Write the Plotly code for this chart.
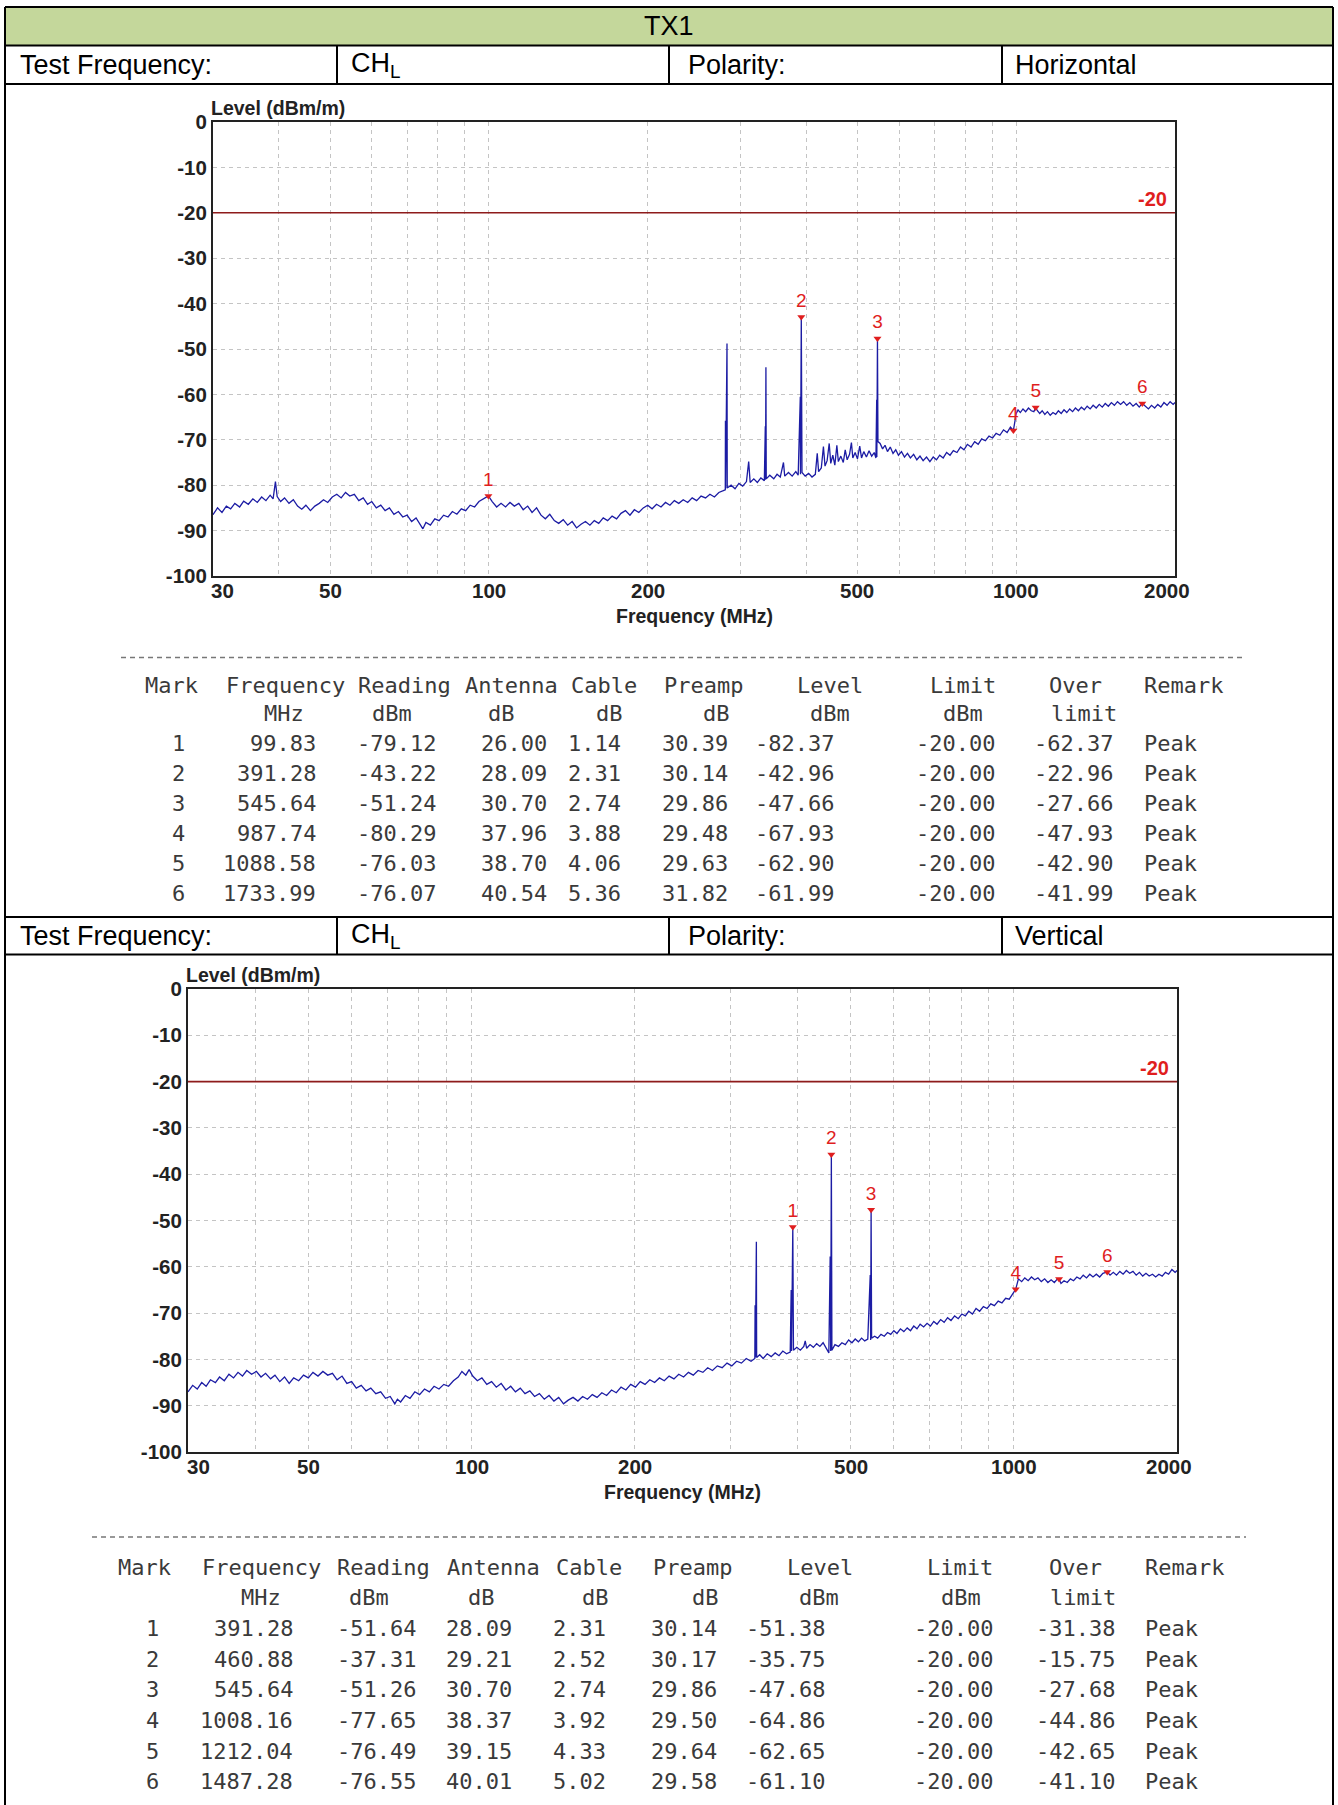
import numpy as np
import plotly.graph_objects as go

FIG_W, FIG_H = 1338, 1805

# ---- sweep, horizontal polarity ----
h_freq = [
    30, 30.6, 31.2, 31.8, 32.4, 33.0, 33.7, 34.3, 35.0, 35.7,
    36.4, 37.1, 37.8, 38.5, 39.0, 39.4, 39.7, 40.3, 41.0, 41.8,
    42.6, 43.4, 44.2, 45.0, 45.9, 46.8, 47.7, 48.6, 49.5, 50.5,
    51.5, 52.5, 53.5, 54.5, 55.6, 56.7, 57.8, 58.9, 60.0, 61.2,
    62.4, 63.6, 64.8, 66.1, 67.4, 68.7, 70.0, 71.4, 72.8, 74.2,
    75.0, 76.0, 77.5, 79.0, 80.5, 82.1, 83.7, 85.3, 87.0, 88.7,
    90.4, 92.2, 94.0, 95.8, 97.7, 99.83, 101.5, 103.5, 105.5, 107.6,
    109.7, 111.8, 114.0, 116.2, 118.5, 120.8, 123.2, 125.6, 128.0, 130.5,
    133.1, 135.7, 138.4, 141.1, 143.9, 146.7, 149.6, 152.5, 155.5, 158.5,
    161.6, 164.8, 168.0, 171.3, 174.7, 178.1, 181.6, 185.2, 188.8, 192.5,
    196.3, 200.1, 204.0, 208.0, 212.1, 216.3, 220.5, 224.8, 229.2, 233.7,
    238.3, 243.0, 247.8, 252.6, 257.6, 262.6, 267.8, 273.0, 278.4, 280.8,
    281.0, 281.2, 282.9, 283.2, 288, 293, 298, 303, 308, 311,
    313, 318, 323, 328, 333, 334.4, 334.7, 335.3, 335.8, 341,
    347, 352, 357, 362, 364, 370, 376, 382, 386, 389.6,
    389.9, 391.28, 392.5, 398, 404, 410, 416, 419.5, 422, 427,
    431, 434, 438, 442, 445, 449, 453, 457, 460, 465,
    470, 474, 478, 483, 487, 490, 495, 500, 505, 509,
    514, 520, 526, 532, 538, 542, 543.8, 544.2, 545.64, 546.8,
    552, 558, 564, 570, 577, 584, 591, 598, 606, 614,
    622, 630, 639, 648, 657, 666, 676, 686, 696, 706,
    716, 727, 738, 749, 760, 772, 784, 796, 808, 821,
    834, 847, 860, 874, 888, 902, 916, 931, 946, 961,
    975, 987.74, 995, 1000, 1008, 1018, 1030, 1042, 1055, 1068,
    1080, 1088.58, 1097, 1108, 1120, 1133, 1146, 1160, 1174, 1188,
    1202, 1217, 1232, 1247, 1263, 1279, 1295, 1312, 1329, 1346,
    1363, 1381, 1399, 1418, 1437, 1456, 1475, 1495, 1515, 1535,
    1556, 1577, 1598, 1620, 1642, 1665, 1688, 1711, 1733.99, 1757,
    1781, 1805, 1830, 1855, 1880, 1906, 1932, 1958, 1984, 2000,
]
h_level = [
    -86.5, -85.0, -86.0, -84.6, -85.2, -84.0, -84.8, -83.5, -84.2, -83.0,
    -83.8, -82.6, -83.4, -82.2, -83.0, -79.2, -82.5, -83.6, -82.8, -84.0,
    -83.2, -84.6, -85.3, -84.4, -85.6, -84.6, -84.0, -83.2, -83.8, -82.6,
    -82.0, -82.8, -81.6, -82.4, -82.0, -83.4, -82.8, -84.2, -83.6, -85.0,
    -84.4, -85.6, -85.0, -86.4, -85.8, -87.0, -86.6, -88.0, -87.2, -88.8,
    -89.6, -88.2, -88.8, -87.4, -87.8, -86.6, -87.0, -85.8, -86.4, -85.2,
    -85.6, -84.4, -84.8, -83.6, -83.0, -82.37, -83.6, -84.8, -84.0, -84.8,
    -83.8, -84.6, -84.0, -85.4, -84.6, -86.0, -85.0, -86.6, -87.4, -86.4,
    -87.8, -88.4, -87.6, -88.8, -88.0, -89.4, -88.6, -88.0, -88.8, -87.8,
    -88.4, -87.2, -87.8, -86.8, -87.4, -86.2, -85.6, -86.6, -85.4, -86.0,
    -85.0, -84.4, -85.2, -84.2, -84.8, -83.8, -84.4, -83.4, -84.0, -83.2,
    -83.8, -82.8, -83.4, -82.4, -82.8, -82.0, -82.6, -81.6, -81.2, -81.0,
    -65.8, -80.8, -48.8, -80.6, -80.0, -80.8, -79.6, -80.2, -79.2, -74.8,
    -79.4, -78.6, -79.4, -78.4, -79.0, -67.0, -78.8, -54.0, -78.6, -77.8,
    -78.6, -77.6, -78.2, -75.0, -78.0, -77.2, -78.0, -77.0, -77.8, -60.5,
    -77.6, -42.96, -77.2, -78.0, -77.4, -78.2, -77.6, -73.0, -77.0, -76.2,
    -71.5, -75.8, -74.6, -70.8, -75.2, -73.4, -75.6, -71.2, -74.8, -73.6,
    -75.0, -72.2, -74.4, -73.2, -70.6, -74.0, -72.8, -74.2, -71.4, -74.0,
    -72.6, -73.8, -72.4, -73.6, -72.8, -74.0, -61.2, -73.8, -47.66, -70.4,
    -70.8, -72.0, -71.2, -72.6, -71.6, -73.0, -72.2, -73.4, -72.6, -73.8,
    -73.0, -74.0, -73.2, -74.4, -73.6, -74.6, -73.8, -74.8, -73.8, -74.4,
    -73.4, -74.0, -72.8, -73.4, -72.4, -72.8, -71.6, -72.2, -71.0, -71.6,
    -70.4, -71.0, -69.8, -70.2, -69.2, -69.6, -68.6, -69.0, -67.8, -68.4,
    -67.2, -67.93, -66.0, -64.2, -63.4, -64.0, -63.2, -63.8, -63.0, -63.6,
    -63.8, -62.90, -63.6, -64.2, -63.6, -64.4, -63.8, -64.6, -64.0, -64.4,
    -63.6, -64.2, -63.4, -64.0, -63.2, -63.8, -63.0, -63.6, -62.8, -63.4,
    -62.6, -63.2, -62.4, -63.0, -62.2, -62.8, -62.0, -62.6, -61.8, -62.4,
    -61.6, -62.2, -61.6, -62.4, -61.8, -62.6, -62.0, -62.8, -61.99, -62.6,
    -63.2, -62.4, -63.0, -62.2, -62.8, -61.8, -62.4, -61.6, -62.2, -61.8,
]

# ---- sweep, vertical polarity ----
v_freq = [
    30, 30.6, 31.2, 31.8, 32.4, 33.0, 33.7, 34.3, 35.0, 35.7,
    36.4, 37.1, 37.8, 38.5, 39.3, 40.1, 40.9, 41.7, 42.6, 43.4,
    44.3, 45.2, 46.1, 47.0, 48.0, 49.0, 50.0, 51.0, 52.1, 53.2,
    54.3, 55.4, 56.5, 57.7, 58.9, 60.1, 61.3, 62.6, 63.9, 65.2,
    66.6, 68.0, 69.4, 70.8, 72.2, 73.0, 74.0, 75.5, 77.0, 78.6,
    80.2, 81.9, 83.6, 85.3, 87.1, 88.9, 90.7, 92.6, 94.5, 96.0,
    97.6, 99.0, 100.5, 102.5, 104.5, 106.7, 108.9, 111.1, 113.4, 115.7,
    118.1, 120.5, 123.0, 125.5, 128.1, 130.7, 133.4, 136.2, 139.0, 141.9,
    144.8, 147.8, 150.8, 153.9, 157.1, 160.3, 163.6, 167.0, 170.4, 173.9,
    177.5, 181.2, 184.9, 188.7, 192.6, 196.6, 200.6, 204.7, 208.9, 213.2,
    217.6, 222.1, 226.7, 231.4, 236.2, 241.1, 246.1, 251.2, 256.4, 261.7,
    267.1, 272.6, 278.2, 284.0, 289.9, 295.9, 302.0, 308.2, 314.6, 321.1,
    327.7, 333.0, 333.4, 333.8, 335.2, 335.6, 340, 345, 351, 357,
    363, 369, 375, 381, 387, 388.6, 389.2, 391.28, 392.4, 398,
    404, 410, 412.5, 415, 421, 427, 433, 439, 445, 451,
    456, 458.6, 459.6, 460.88, 462, 468, 475, 482, 489, 496,
    503, 510, 517, 524, 531, 538, 543.6, 544.6, 545.64, 546.8,
    554, 561, 569, 577, 585, 593, 601, 609, 618, 627,
    636, 645, 654, 663, 672, 682, 692, 702, 712, 722,
    733, 744, 755, 766, 778, 790, 802, 814, 826, 839,
    852, 865, 879, 893, 907, 921, 936, 951, 966, 981,
    996, 1008.16, 1020, 1034, 1048, 1063, 1078, 1093, 1108, 1124,
    1140, 1156, 1172, 1188, 1204, 1212.04, 1222, 1238, 1255, 1272,
    1289, 1307, 1325, 1343, 1362, 1381, 1400, 1420, 1440, 1460,
    1487.28, 1505, 1526, 1547, 1569, 1591, 1613, 1636, 1659, 1682,
    1705, 1729, 1753, 1777, 1802, 1827, 1852, 1878, 1904, 1930,
    1957, 1984, 2000,
]
v_level = [
    -87.0, -85.6, -86.4, -85.0, -85.8, -84.4, -85.0, -83.8, -84.6, -83.2,
    -84.0, -82.8, -83.6, -82.4, -83.2, -82.6, -83.8, -83.0, -84.2, -83.4,
    -84.8, -83.8, -85.2, -84.0, -84.6, -83.4, -84.0, -82.8, -83.6, -82.6,
    -83.4, -83.0, -84.4, -83.6, -85.2, -84.8, -86.2, -85.6, -86.8, -86.2,
    -87.4, -87.0, -88.4, -88.0, -89.6, -88.6, -89.2, -87.8, -88.4, -87.0,
    -87.6, -86.4, -87.0, -85.8, -86.4, -85.4, -85.8, -84.6, -83.8, -82.6,
    -83.4, -82.2, -83.6, -84.6, -84.0, -85.4, -84.8, -86.0, -85.2, -86.6,
    -85.8, -87.0, -86.2, -87.4, -86.8, -88.0, -87.4, -88.6, -87.8, -89.0,
    -88.2, -89.6, -88.8, -88.2, -89.0, -88.0, -88.6, -87.6, -88.2, -87.2,
    -87.8, -86.6, -87.2, -86.0, -86.6, -85.4, -86.0, -84.8, -85.4, -84.4,
    -85.0, -84.0, -84.6, -83.6, -84.2, -83.2, -83.8, -82.8, -83.4, -82.4,
    -82.8, -81.8, -82.4, -81.4, -81.8, -80.8, -81.4, -80.4, -80.8, -79.8,
    -80.4, -79.8, -68.3, -79.6, -54.6, -79.6, -79.0, -79.8, -78.8, -79.4,
    -78.6, -79.2, -78.2, -78.8, -78.4, -65.0, -78.2, -51.38, -78.0, -77.4,
    -78.0, -77.2, -76.0, -77.6, -76.8, -77.4, -76.6, -77.2, -76.4, -77.8,
    -78.6, -57.8, -78.2, -35.75, -78.0, -76.8, -77.2, -76.4, -76.8, -75.8,
    -76.4, -75.6, -76.2, -75.4, -76.0, -75.6, -61.8, -75.8, -47.68, -75.4,
    -75.0, -75.4, -74.6, -75.0, -74.2, -74.6, -73.8, -74.4, -73.4, -74.0,
    -73.2, -73.8, -72.8, -73.4, -72.4, -73.0, -72.2, -72.8, -71.8, -72.4,
    -71.4, -72.0, -71.0, -71.6, -70.6, -71.2, -70.2, -70.6, -69.6, -70.2,
    -69.0, -69.6, -68.6, -69.0, -68.0, -68.4, -67.4, -67.8, -66.8, -67.0,
    -65.8, -64.86, -62.6, -63.2, -62.4, -63.0, -62.2, -62.8, -62.4, -63.2,
    -62.6, -63.4, -62.8, -63.4, -62.6, -62.65, -63.6, -63.0, -63.4, -62.6,
    -63.0, -62.2, -62.6, -61.8, -62.4, -61.6, -62.2, -61.6, -62.2, -61.4,
    -61.10, -61.8, -61.2, -61.8, -61.0, -61.6, -60.8, -61.4, -61.0, -61.8,
    -61.2, -62.0, -61.4, -62.0, -61.6, -62.2, -61.6, -62.0, -61.2, -61.6,
    -60.6, -61.2, -60.8,
]
assert len(h_freq) == len(h_level) and len(v_freq) == len(v_level)

# ---- marker tables ----
h_mark = [1, 2, 3, 4, 5, 6]
h_mk_freq = [99.83, 391.28, 545.64, 987.74, 1088.58, 1733.99]
h_reading = [-79.12, -43.22, -51.24, -80.29, -76.03, -76.07]
h_antenna = [26.00, 28.09, 30.70, 37.96, 38.70, 40.54]
h_cable = [1.14, 2.31, 2.74, 3.88, 4.06, 5.36]
h_preamp = [30.39, 30.14, 29.86, 29.48, 29.63, 31.82]
h_mk_level = [-82.37, -42.96, -47.66, -67.93, -62.90, -61.99]
h_limit = [-20.00] * 6
h_over = [-62.37, -22.96, -27.66, -47.93, -42.90, -41.99]
h_remark = ["Peak"] * 6

v_mark = [1, 2, 3, 4, 5, 6]
v_mk_freq = [391.28, 460.88, 545.64, 1008.16, 1212.04, 1487.28]
v_reading = [-51.64, -37.31, -51.26, -77.65, -76.49, -76.55]
v_antenna = [28.09, 29.21, 30.70, 38.37, 39.15, 40.01]
v_cable = [2.31, 2.52, 2.74, 3.92, 4.33, 5.02]
v_preamp = [30.14, 30.17, 29.86, 29.50, 29.64, 29.58]
v_mk_level = [-51.38, -35.75, -47.68, -64.86, -62.65, -61.10]
v_limit = [-20.00] * 6
v_over = [-31.38, -15.75, -27.68, -44.86, -42.65, -41.10]
v_remark = ["Peak"] * 6

limit_level = -20
freq_span = [30, 2000]
x_label_vals = [30, 50, 100, 200, 500, 1000, 2000]
x_grid_vals = [40, 50, 60, 70, 80, 90, 100, 200, 300, 400, 500, 600, 700, 800, 900, 1000]
y_tick_vals = [0, -10, -20, -30, -40, -50, -60, -70, -80, -90, -100]

tbl_headers = ["Mark", "Frequency", "Reading", "Antenna", "Cable", "Preamp", "Level", "Limit", "Over", "Remark"]
tbl_units = ["", "MHz", "dBm", "dB", "dB", "dB", "dBm", "dBm", "limit", ""]

SANS = "Liberation Sans, Arial, sans-serif"
MONO = "DejaVu Sans Mono, monospace"
TRACE = "#1c1ca4"
RED = "#e01e1e"


def px_x(x):
    return x / FIG_W


def px_y(y):
    return 1 - y / FIG_H


fig = go.Figure()
shapes = []
annotations = []

charts = [
    dict(freq=h_freq, level=h_level, mk_f=h_mk_freq, mk_l=h_mk_level, box=(213, 122, 1175, 576)),
    dict(freq=v_freq, level=v_level, mk_f=v_mk_freq, mk_l=v_mk_level, box=(188, 989, 1177, 1452)),
]

for i, c in enumerate(charts):
    n = "" if i == 0 else str(i + 1)
    xa, ya = "x" + n, "y" + n
    x0, y0, x1, y1 = c["box"]

    fig.add_trace(go.Scatter(
        x=freq_span, y=[limit_level, limit_level], mode="lines",
        line=dict(color="#8e1b1b", width=1.6), xaxis=xa, yaxis=ya, hoverinfo="skip",
    ))
    fig.add_trace(go.Scatter(
        x=c["freq"], y=c["level"], mode="lines",
        line=dict(color=TRACE, width=1.3), xaxis=xa, yaxis=ya, hoverinfo="skip",
    ))
    fig.add_trace(go.Scatter(
        x=c["mk_f"], y=c["mk_l"], mode="markers+text",
        text=[str(k + 1) for k in range(len(c["mk_f"]))], textposition="top center",
        textfont=dict(family=SANS, size=19, color=RED),
        marker=dict(symbol="triangle-down", size=7, color=RED),
        xaxis=xa, yaxis=ya, hoverinfo="skip", cliponaxis=False,
    ))

    fig.layout["xaxis" + n] = dict(
        type="log", range=[np.log10(freq_span[0]), np.log10(freq_span[1])],
        domain=[px_x(x0), px_x(x1)], anchor=ya, automargin=False,
        tickvals=x_grid_vals, showticklabels=False, ticks="",
        showgrid=True, gridcolor="#c4c4c4", griddash="4px,4px", gridwidth=1,
        showline=True, mirror=True, linecolor="#222", linewidth=2, zeroline=False,
    )
    fig.layout["yaxis" + n] = dict(
        range=[-100, 0], domain=[px_y(y1), px_y(y0)], anchor=xa, automargin=False,
        tickvals=y_tick_vals, ticktext=[str(v) for v in y_tick_vals], ticks="",
        tickfont=dict(family=SANS, size=20.5, color="#222", weight="bold"),
        showgrid=True, gridcolor="#c4c4c4", griddash="4px,4px", gridwidth=1,
        showline=True, mirror=True, linecolor="#222", linewidth=2, zeroline=False,
    )

    for v in x_label_vals:
        shift = 10 if v == freq_span[0] else (-8 if v == freq_span[1] else 0)
        annotations.append(dict(
            xref=xa, yref=ya, x=np.log10(v), y=-100, xanchor="center", yanchor="top",
            xshift=shift, yshift=-1, text=str(v), showarrow=False,
            font=dict(family=SANS, size=20.5, color="#222", weight="bold"),
        ))
    annotations.append(dict(
        xref=xa + " domain", yref=ya + " domain", x=0, y=1, xanchor="left", yanchor="bottom",
        xshift=-4, yshift=1, text="Level (dBm/m)", showarrow=False,
        font=dict(family=SANS, size=19.5, color="#222", weight="bold"),
    ))
    annotations.append(dict(
        xref=xa + " domain", yref=ya + " domain", x=0.5, y=0, xanchor="center", yanchor="top",
        yshift=-27, text="Frequency (MHz)", showarrow=False,
        font=dict(family=SANS, size=19.5, color="#222", weight="bold"),
    ))
    annotations.append(dict(
        xref=xa, yref=ya, x=np.log10(freq_span[1]), y=limit_level, xanchor="right", yanchor="bottom",
        xshift=-6, yshift=1, text=str(limit_level), showarrow=False,
        font=dict(family=SANS, size=20, color=RED, weight="bold"),
    ))

# ---- report tables (marker listings) ----
tables = [
    dict(rows=[h_mark, h_mk_freq, h_reading, h_antenna, h_cable, h_preamp, h_mk_level, h_limit, h_over, h_remark],
         dash_y=657.5, dash_x=(121, 1246),
         row_y=[685.1, 713.9, 743.9, 773.8, 803.7, 833.7, 863.6, 893.6],
         hdr_x=[171.6, 285.6, 404.2, 511.8, 604, 703, 829.7, 962.7, 1075, 1142.3],
         unit_x=[0, 283.8, 391.5, 501.5, 609.7, 716.8, 830.2, 962.7, 1083.6, 0],
         val_x=[178.5, 317.8, 437.6, 549.3, 623, 730, 836, 997.2, 1114.7, 1142.3]),
    dict(rows=[v_mark, v_mk_freq, v_reading, v_antenna, v_cable, v_preamp, v_mk_level, v_limit, v_over, v_remark],
         dash_y=1537, dash_x=(92, 1246),
         row_y=[1567.2, 1597.1, 1628.2, 1659.3, 1689.3, 1720.4, 1751.4, 1781.4],
         hdr_x=[144.5, 261.4, 383.4, 493.4, 589, 692.6, 819.9, 959.8, 1075, 1143.4],
         unit_x=[0, 260.8, 369, 481.9, 595.3, 705.9, 819.3, 961, 1083, 0],
         val_x=[152, 294.8, 418, 513.6, 608, 718.5, 826.8, 994.9, 1117, 1143.4]),
]

mono_font = dict(family=MONO, size=22, color="#3a3a3a")


def text_at(x, y, s, anchor, font):
    annotations.append(dict(
        xref="paper", yref="paper", x=px_x(x), y=px_y(y), xanchor=anchor, yanchor="middle",
        text=s, showarrow=False, font=font,
    ))


for t in tables:
    shapes.append(dict(type="line", xref="paper", yref="paper",
                       x0=px_x(t["dash_x"][0]), x1=px_x(t["dash_x"][1]),
                       y0=px_y(t["dash_y"]), y1=px_y(t["dash_y"]),
                       line=dict(color="#777", width=1.5, dash="5px,4px")))
    for j, h in enumerate(tbl_headers):
        anchor = "left" if h == "Remark" else "center"
        text_at(t["hdr_x"][j], t["row_y"][0], h, anchor, mono_font)
        if tbl_units[j]:
            text_at(t["unit_x"][j], t["row_y"][1], tbl_units[j], "center", mono_font)
    for r in range(6):
        y = t["row_y"][r + 2]
        for j, col in enumerate(t["rows"]):
            v = col[r]
            if j == 0:
                text_at(t["val_x"][j], y, str(v), "center", mono_font)
            elif isinstance(v, str):
                text_at(t["val_x"][j], y, v, "left", mono_font)
            else:
                text_at(t["val_x"][j], y, f"{v:.2f}", "right", mono_font)

# ---- outer report frame ----
L, R = 5, 1333
shapes.append(dict(type="rect", xref="paper", yref="paper", x0=px_x(L), x1=px_x(R),
                   y0=px_y(45.5), y1=px_y(7), fillcolor="#c4d79b", line=dict(width=0), layer="below"))
for y in [7, 45.5, 84, 917, 954.5]:
    shapes.append(dict(type="line", xref="paper", yref="paper", x0=px_x(L), x1=px_x(R),
                       y0=px_y(y), y1=px_y(y), line=dict(color="black", width=2)))
for x in [L, R]:
    shapes.append(dict(type="line", xref="paper", yref="paper", x0=px_x(x), x1=px_x(x),
                       y0=px_y(7), y1=px_y(FIG_H + 2), line=dict(color="black", width=2)))
for (ya0, ya1) in [(45.5, 84), (917, 954.5)]:
    for x in [337, 669, 1002]:
        shapes.append(dict(type="line", xref="paper", yref="paper", x0=px_x(x), x1=px_x(x),
                           y0=px_y(ya0), y1=px_y(ya1), line=dict(color="black", width=2)))

cell_font = dict(family=SANS, size=27, color="black")
text_at((L + R) / 2, 26.5, "TX1", "center", cell_font)
for yc, pol in [(65, "Horizontal"), (936, "Vertical")]:
    text_at(18, yc, "Test Frequency:", "left", cell_font)
    text_at(349, yc, "CH<sub>L</sub>", "left", cell_font)
    text_at(686, yc, "Polarity:", "left", cell_font)
    text_at(1013, yc, pol, "left", cell_font)

fig.update_layout(
    width=FIG_W, height=FIG_H, autosize=False,
    margin=dict(l=0, r=0, t=0, b=0, pad=0, autoexpand=False),
    paper_bgcolor="white", plot_bgcolor="white",
    showlegend=False, hovermode=False,
    shapes=shapes, annotations=annotations,
)

# pin the figure to the page origin so the page is exactly the figure
pin_js = (
    "document.body.style.margin='0px';document.body.style.overflow='hidden';"
    "var gd=document.getElementById('{plot_id}');"
    "gd.style.position='absolute';gd.style.left='0px';gd.style.top='0px';"
)
fig.write_html("out.html", config={"displayModeBar": False}, post_script=pin_js)
